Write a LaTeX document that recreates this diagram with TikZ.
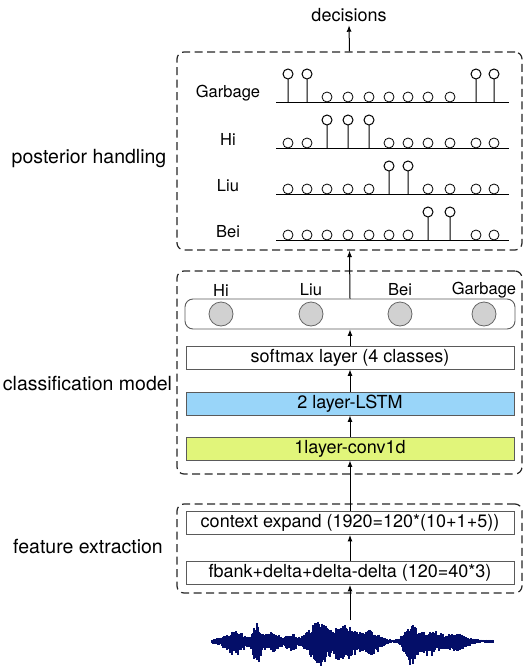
\documentclass[tikz,border=0pt]{standalone}
\usepackage{fontspec}
\setmainfont{TeX Gyre Heros}
\usetikzlibrary{arrows.meta}
\definecolor{lstmblue}{RGB}{153,213,249}
\definecolor{convgreen}{RGB}{225,245,122}
\definecolor{wavenavy}{RGB}{4,14,104}
\definecolor{boxgray}{RGB}{90,90,90}
\tikzset{
  layer/.style={draw=boxgray, line width=0.9pt, minimum width=328pt, minimum height=23pt, inner sep=0pt, font=\fontsize{18}{21}\selectfont},
  stage/.style={draw=black!85, dash pattern=on 8pt off 4.5pt, line width=1.2pt, rounded corners=7pt, inner sep=0pt},
  stagename/.style={font=\fontsize{19.5}{22}\selectfont},
  classname/.style={font=\fontsize{16.5}{19}\selectfont},
  probnode/.style={circle, draw=black!60, fill=black!18, line width=0.8pt, minimum size=24pt, inner sep=0pt},
  declare function={bump(\t,\m,\s)=exp(max(-9,-((\t-\m)/\s)*((\t-\m)/\s)));}
}

\begin{document}
\begin{tikzpicture}[x=1pt,y=-1pt,>={Latex[length=6.5pt,width=5pt]}]
		\useasboundingbox (0,0) rectangle (524,669);
		% stages
		\node[stage, minimum width=345pt, minimum height=198pt] (post) at (349.5,151) {};
		\node[stage, minimum width=345pt, minimum height=203pt] (cls) at (349.5,372.5) {};
		\node[stage, minimum width=345pt, minimum height=89pt] (feat) at (349.5,548.5) {};
		\node[stagename] (postname) at (89,159) {posterior handling};
		\node[stagename] (clsname) at (87.5,384) {classification model};
		\node[stagename] (featname) at (88,547) {feature extraction};
		\node[font=\fontsize{18}{21}\selectfont] (decisions) at (349,15) {decisions};
		%
		% posterior rows
		\foreach \lab/\base/\pat in {Garbage/102/{1,1,0,0,0,0,0,0,0,1,1}, Hi/148/{0,0,1,1,1,0,0,0,0,0,0}, Liu/194/{0,0,0,0,0,1,1,0,0,0,0}, Bei/240/{0,0,0,0,0,0,0,1,1,0,0}}{
			\node[classname] (row\lab) at (228,\base-8.5) {\lab};
			\draw[line width=1pt] (276,\base) -- (509,\base);
			\foreach \v [count=\i] in \pat {
				\pgfmathsetmacro\px{{288,307,327,348,369,389,408,428,450,476,494}[\i-1]}
				\ifnum\v=1\relax
					\draw[line width=1pt] (\px,\base) -- (\px,\base-23) ++(0,-5) circle[radius=5];
				\else
					\draw[line width=0.8pt] (\px,\base-5) circle[radius=5];
				\fi
			}
		}
		%
		% classification model
		\node[draw=boxgray, line width=0.9pt, rounded corners=8pt, minimum width=330pt, minimum height=30pt] (out) at (350,314) {};
		\foreach \name/\px in {Hi/221,Liu/311,Bei/400,Garbage/484}{
			\node[probnode] (p\name) at (\px,314) {};
			\node[classname] (l\name) at (\px,290) {\name};
		}
		\node[layer, fill=white] (softmax) at (350,357.5) {softmax layer (4 classes)};
		\node[layer, fill=lstmblue] (lstm) at (350,403.5) {2 layer-LSTM};
		\node[layer, fill=convgreen] (conv) at (350,448.5) {1layer-conv1d};
		%
		% feature extraction
		\node[layer] (context) at (350,523) {context expand (1920=120*(10+1+5))};
		\node[layer] (fbank) at (350,573) {fbank+delta+delta-delta (120=40*3)};
		%
		% waveform
		\pgfmathsetseed{42}
		\draw[wavenavy, line width=0.8pt] (211,641) -- (494,641);
		\foreach \wx in {212,213,...,493}{
			\pgfmathsetmacro\env{1.4 + 10*bump(\wx,234,12) + 16*bump(\wx,257,5) + 8*bump(\wx,272,9) + 6*bump(\wx,291,7) + 18*bump(\wx,318,12) + 15*bump(\wx,345,14) + 10*bump(\wx,372,10) + 16*bump(\wx,410,7) + 10*bump(\wx,430,15) + 6*bump(\wx,458,12)}
			\pgfmathsetmacro\up{min(20,\env*(0.5+0.5*rnd))}
			\pgfmathsetmacro\dn{min(27,1.35*\env*(0.5+0.5*rnd))}
			\draw[wavenavy, line width=1.2pt] (\wx,641-\up) -- (\wx,641+\dn);
		}
		\coordinate (wave) at (350,620);
		%
		\path[->, line width=1pt]
		(post.north) edge (decisions.south)
		(out.north) edge (post.south)
		(softmax.north) edge (out.south)
		(lstm.north) edge (softmax.south)
		(conv.north) edge (lstm.south)
		(context.north) edge (conv.south)
		(fbank.north) edge (context.south)
		(wave) edge (fbank.south);
	\end{tikzpicture}
\end{document}
